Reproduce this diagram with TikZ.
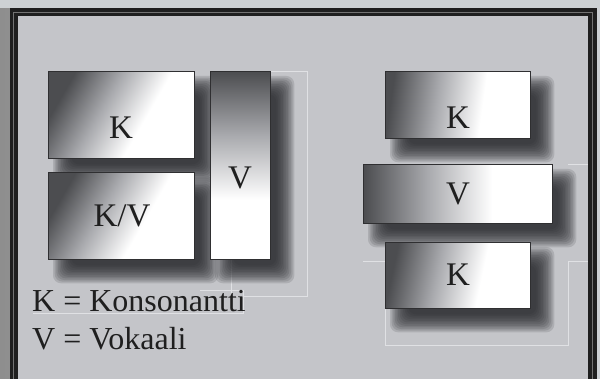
\documentclass[tikz,border=0pt]{standalone}
\usepackage{fontspec}
\setmainfont{Liberation Serif}
\definecolor{panel}{HTML}{C4C5C9}
\definecolor{shadowc}{HTML}{2A2B2F}
\definecolor{boxline}{HTML}{2F2F31}
\definecolor{gdark}{HTML}{4C4D50}
\definecolor{gmid}{HTML}{A9AAAE}
\definecolor{faint}{HTML}{E0E1E4}
\definecolor{outerL}{HTML}{8E8E8E}
\definecolor{outerR}{HTML}{CDD1D4}
\pgfdeclarehorizontalshading{boxgrad}{100bp}{color(0bp)=(gdark); color(25bp)=(gdark); color(42bp)=(gmid); color(59bp)=(white); color(100bp)=(white)}
\pgfdeclarelayer{shadowlayer}
\pgfdeclarelayer{bglayer}
\pgfsetlayers{bglayer,shadowlayer,main}
\newcommand\myshadow[1]{%
  \foreach \k in {0,...,11}{%
    \pgfmathsetmacro\e{9-\k*18/11}%
    \fill[shadowc, opacity=0.15, rounded corners=8pt]
      ([shift={(14-\e,-14+\e)}]#1.north west) rectangle ([shift={(14+\e,-14-\e)}]#1.south east);
  }%
}
\tikzset{
  gbox/.style={draw=boxline, line width=1.3pt, shading=boxgrad, inner sep=0pt, anchor=north west},
  lab/.style={font=\fontsize{33}{36}\selectfont, text=black!88, anchor=base, inner sep=0pt},
  legend/.style={font=\fontsize{32}{36}\selectfont, text=black!88, anchor=base west, inner sep=0pt},
  faintline/.style={draw=faint, line width=0.8pt}
}
\begin{document}
\begin{tikzpicture}[x=1pt,y=1pt]
\useasboundingbox (0,0) rectangle (600,-379);
\clip (0,0) rectangle (600,-379);
\begin{pgfonlayer}{bglayer}
  \fill[left color=outerL, right color=outerR] (0,0) rectangle (600,-379);
  \fill[outerR] (0,0) rectangle (600,-8);
  \fill[black!88] (10,-8) rectangle (597,-400);
  \draw[black!55, line width=0.8pt] (13.5,-12) rectangle (592.5,-420);
  \fill[panel] (18,-16) rectangle (588,-420);
  \draw[faintline] (270,-71) -- (307,-71) -- (307,-296) -- (231,-296) -- (231,-259);
  \draw[faintline] (200,-290) -- (243,-290) -- (243,-313) -- (33,-313);
  \draw[faintline] (363,-261) -- (385,-261);
  \draw[faintline] (385,-308) -- (385,-345) -- (568,-345) -- (568,-261) -- (588,-261);
  \draw[faintline] (568,-164) -- (588,-164);
\end{pgfonlayer}

\node[gbox, shading angle=-30, minimum width=146pt, minimum height=87pt] (kA) at (48,-71) {};
\node[gbox, shading angle=-30, minimum width=146pt, minimum height=87pt] (kv) at (48,-172) {};
\node[gbox, shading angle=-90, minimum width=60pt, minimum height=188pt] (vT) at (210,-71) {};
\node[gbox, shading angle=-8, minimum width=145pt, minimum height=67pt] (kB) at (385,-71) {};
\node[gbox, shading angle=0, minimum width=189pt, minimum height=59pt] (vB) at (363,-164) {};
\node[gbox, shading angle=-12, minimum width=145pt, minimum height=66pt] (kC) at (385,-242) {};

\begin{pgfonlayer}{shadowlayer}
  \myshadow{kA}
  \myshadow{kv}
  \myshadow{vT}
  \myshadow{kB}
  \myshadow{vB}
  \myshadow{kC}
\end{pgfonlayer}

\node[lab] (kAt) at (121,-139) {K};
\node[lab] (kvt) at (122,-227) {K/V};
\node[lab] (vTt) at (240,-189) {V};
\node[lab] (kBt) at (458,-129) {K};
\node[lab] (vBt) at (458,-205) {V};
\node[lab] (kCt) at (458,-286) {K};

\node[legend] (leg1) at (32,-312) {K = Konsonantti};
\node[legend] (leg2) at (32,-350) {V = Vokaali};
\end{tikzpicture}
\end{document}
